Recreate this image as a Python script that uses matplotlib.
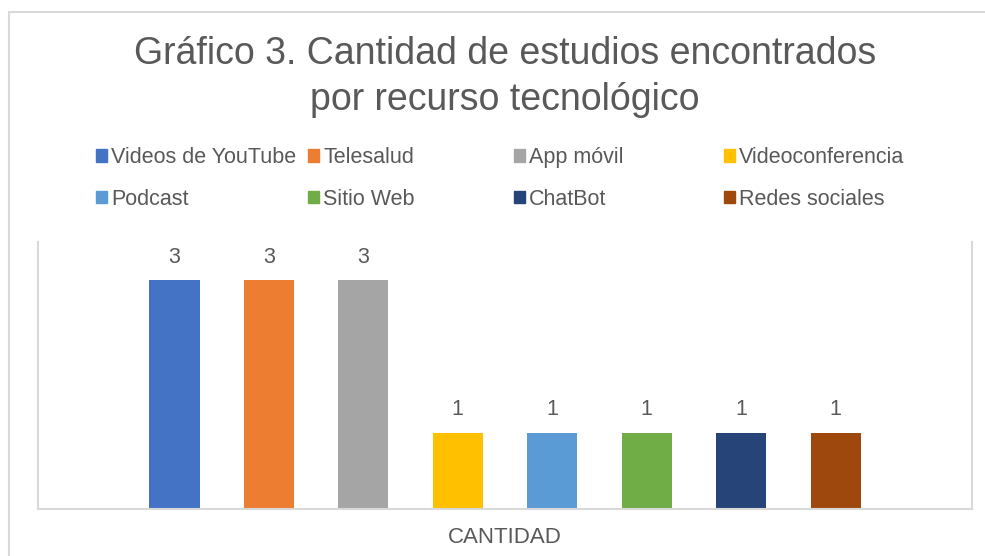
import matplotlib.pyplot as plt
from matplotlib.patches import Patch, Rectangle

# data
recursos = ["Videos de YouTube", "Telesalud", "App móvil", "Videoconferencia",
            "Podcast", "Sitio Web", "ChatBot", "Redes sociales"]
cantidad = [3, 3, 3, 1, 1, 1, 1, 1]
categoria = ["CANTIDAD"]
colores = ["#4472C4", "#ED7D31", "#A5A5A5", "#FFC000",
           "#5B9BD5", "#70AD47", "#264478", "#9E480E"]

plt.rcParams['font.family'] = ['Liberation Sans', 'DejaVu Sans']
gris = "#595959"
linea = "#D9D9D9"

fig = plt.figure(figsize=(9.85, 5.56), dpi=100)
ax = fig.add_axes([0.0386, 0.0845, 0.9482, 0.4802])

n = len(recursos)
ancho = 0.53
for i in range(n):
    x = i - (n - 1) / 2
    b = ax.bar(x, cantidad[i], width=ancho, color=colores[i], label=recursos[i])
    ax.bar_label(b, padding=9, fontsize=15.5, color=gris)

ax.set_xlim(-4.945, 4.945)
ax.set_ylim(0, 3.5)
ax.set_yticks([])
ax.set_xticks([0])
ax.set_xticklabels(categoria, fontsize=16, color=gris)
ax.tick_params(axis='x', length=0, pad=13)
ax.spines['top'].set_visible(False)
for s in ['left', 'right', 'bottom']:
    ax.spines[s].set_color(linea)
    ax.spines[s].set_linewidth(1.5)

# title
fig.text(0.5127, 1 - 77 / 556, "Gráfico 3. Cantidad de estudios encontrados\npor recurso tecnológico",
         ha='center', va='center', fontsize=27, color=gris, linespacing=1.33)

# legend, one per column so columns keep Excel's spacing
col_x = [96, 308, 514, 724]
for c in range(4):
    handles = [Patch(color=colores[c], label=recursos[c]),
               Patch(color=colores[c + 4], label=recursos[c + 4])]
    fig.legend(handles=handles, loc='center left',
               bbox_to_anchor=(col_x[c] / 985, 1 - 178.5 / 556),
               frameon=False, fontsize=15.5, labelcolor=gris,
               handlelength=0.5, handleheight=0.5, handletextpad=0.2,
               borderpad=0, borderaxespad=0, labelspacing=0.95)

# outer chart border
fig.add_artist(Rectangle((9 / 985, -0.1), 1.2, 1 - 12 / 556 + 0.1,
                         transform=fig.transFigure, fill=False,
                         edgecolor=linea, linewidth=1.5))

fig.savefig("out.png", dpi=100)
